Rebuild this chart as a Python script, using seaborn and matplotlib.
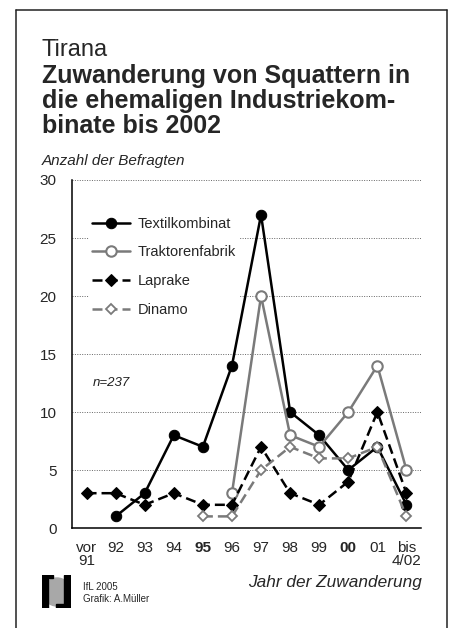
import numpy as np
import pandas as pd
import seaborn as sns
import matplotlib.pyplot as plt
from matplotlib.patches import Rectangle, Circle
from matplotlib.lines import Line2D

# Data
categories = ['vor\n91', '92', '93', '94', '95', '96', '97', '98', '99', '00', '01', 'bis\n4/02']
bold_ticks = ['95', '00']
textil = [np.nan, 1, 3, 8, 7, 14, 27, 10, 8, 5, 7, 2]
traktor = [np.nan, np.nan, np.nan, np.nan, np.nan, 3, 20, 8, 7, 10, 14, 5]
laprake = [3, 3, 2, 3, 2, 2, 7, 3, 2, 4, 10, 3]
dinamo = [np.nan, np.nan, np.nan, np.nan, 1, 1, 5, 7, 6, 6, 7, 1]

W, H = 453, 628
GREY = '#7a7a7a'

sns.set_style('white')
plt.rcParams['font.family'] = ['Liberation Sans', 'DejaVu Sans']


def fx(px):
    return px / W


def fy(py):
    return 1 - py / H


df = pd.DataFrame({'pos': np.arange(len(categories)), 'Textilkombinat': textil,
                   'Traktorenfabrik': traktor, 'Laprake': laprake, 'Dinamo': dinamo})

fig = plt.figure(figsize=(W / 100, H / 100), dpi=100)
ax = fig.add_axes([fx(72), fy(528), fx(421) - fx(72), fy(180) - fy(528)])

styles = {
    'Textilkombinat': dict(color='black', marker='o', markersize=7.5, mfc='black', mec='black', linestyle='-'),
    'Traktorenfabrik': dict(color=GREY, marker='o', markersize=7.5, mfc='white', mec=GREY, mew=1.5, linestyle='-'),
    'Laprake': dict(color='black', marker='D', markersize=6, mfc='black', mec='black', dashes=(4, 2)),
    'Dinamo': dict(color=GREY, marker='D', markersize=5.5, mfc='white', mec=GREY, mew=1.3, dashes=(4, 2)),
}
for name in ['Textilkombinat', 'Traktorenfabrik', 'Laprake', 'Dinamo']:
    sns.lineplot(data=df, x='pos', y=name, ax=ax, label=name, linewidth=1.8, zorder=3, **styles[name])

ax.set_xlim(-0.5, len(categories) - 0.5)
ax.set_ylim(0, 30)
ax.set_yticks(range(0, 31, 5))
ax.set_xticks(np.arange(len(categories)))
ax.set_xticklabels(categories, fontsize=11, linespacing=0.95)
for lab in ax.get_xticklabels():
    if lab.get_text() in bold_ticks:
        lab.set_fontweight('bold')
ax.set_xticks(np.arange(len(categories) + 1) - 0.5, minor=True)
ax.tick_params(axis='x', which='major', length=0, pad=9)
ax.tick_params(axis='x', which='minor', length=4, width=1.1, direction='out')
ax.tick_params(axis='y', length=5, width=1.1, direction='out', labelsize=11, pad=6)
ax.set_xlabel('')
ax.set_ylabel('')
ax.yaxis.grid(True, linestyle=(0, (1, 1.5)), color='#666666', linewidth=0.7)
ax.set_axisbelow(True)
for s in ['top', 'right']:
    ax.spines[s].set_visible(False)
for s in ['left', 'bottom']:
    ax.spines[s].set_linewidth(1.1)
    ax.spines[s].set_color('black')

leg = ax.legend(loc='upper left', bbox_to_anchor=(fx(89), fy(214)), bbox_transform=fig.transFigure,
                fontsize=10.5, handlelength=2.6, handletextpad=0.55, labelspacing=1.0,
                borderpad=0.2, borderaxespad=0, frameon=True, fancybox=False)
leg.get_frame().set_facecolor('white')
leg.get_frame().set_edgecolor('none')
leg.get_frame().set_alpha(1)

ax.text(fx(93), fy(386), 'n=237', transform=fig.transFigure, fontsize=9.5, style='italic', color='#222222')

# titles
fig.text(fx(42), fy(56), 'Tirana', fontsize=17, va='baseline')
for i, line in enumerate(['Zuwanderung von Squattern in', 'die ehemaligen Industriekom-', 'binate bis 2002']):
    fig.text(fx(42), fy(83 + i * 25), line, fontsize=18, fontweight='bold', va='baseline')
fig.text(fx(42), fy(165), 'Anzahl der Befragten', fontsize=11, style='italic', va='baseline')
fig.text(fx(422), fy(587), 'Jahr der Zuwanderung', fontsize=12.4, style='italic', ha='right', va='baseline')
fig.text(fx(83), fy(590), 'IfL 2005', fontsize=7, va='baseline')
fig.text(fx(83), fy(602), 'Grafik: A.Müller', fontsize=7, va='baseline')

# logo
lax = fig.add_axes([fx(42), fy(608), fx(71) - fx(42), fy(575) - fy(608)])
lax.set_xlim(42, 71)
lax.set_ylim(608, 575)
lax.axis('off')
globe = Circle((57, 592), 14, color='#a8a8a8', zorder=1)
lax.add_patch(globe)
globe.set_clip_path(Rectangle((42, 575), 29, 33, transform=lax.transData))
lax.add_patch(Rectangle((42, 575), 5.5, 33, color='black', zorder=2))
lax.add_patch(Rectangle((42, 575), 11, 3, color='black', zorder=2))
lax.add_patch(Rectangle((64, 575), 7, 33, color='black', zorder=2))
lax.add_patch(Rectangle((56, 603.5), 15, 4.5, color='black', zorder=2))

# frame round the figure
for xs, ys in [([16, 16], [10, 628]), ([16, 447], [10, 10]), ([447, 447], [10, 628])]:
    fig.add_artist(Line2D([fx(x) for x in xs], [fy(y) for y in ys], color='#222222', linewidth=1.1))

fig.savefig('out.png', dpi=100)
